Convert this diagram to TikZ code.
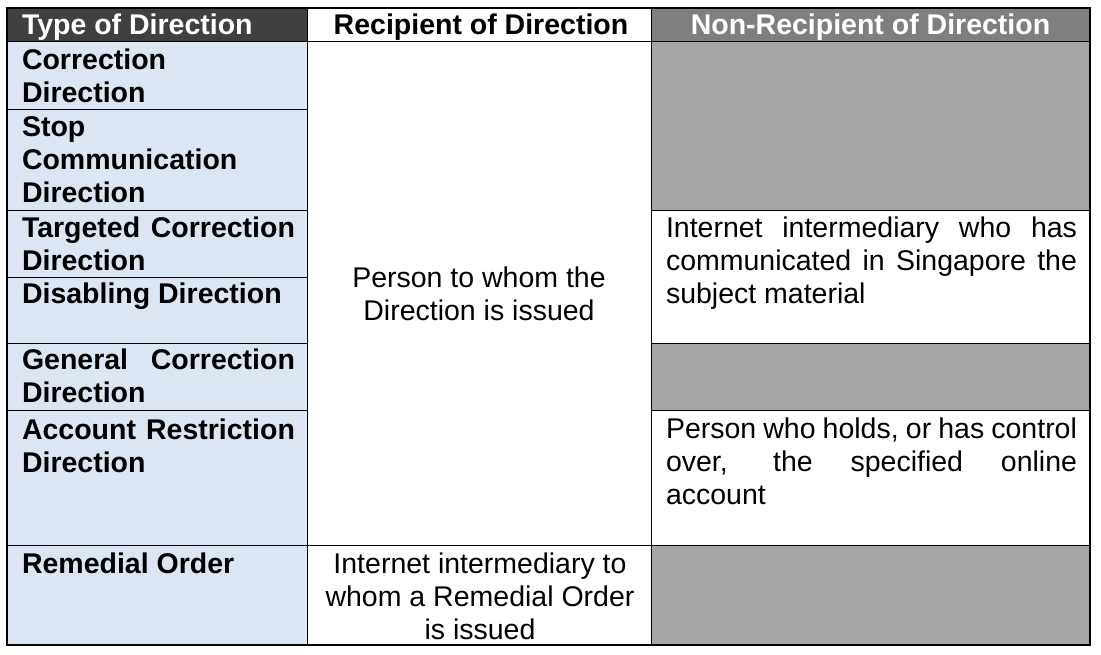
\documentclass[tikz,border=0pt]{standalone}
\usepackage{fontspec}
\setmainfont{Liberation Sans}
\definecolor{hdrdark}{HTML}{404040}
\definecolor{hdrgray}{HTML}{7F7F7F}
\definecolor{cellgray}{HTML}{A6A6A6}
\definecolor{cellblue}{HTML}{DCE6F2}
\newcommand{\jlL}[1]{\makebox[273pt][s]{#1}}
\newcommand{\jlR}[1]{\makebox[411pt][s]{#1}}
\tikzset{
  txt/.style={inner sep=0pt, outer sep=0pt, font=\fontsize{28.5}{33}\selectfont},
  typecell/.style={txt, font=\fontsize{28.5}{33}\selectfont\bfseries, anchor=north west, align=left},
  hdrtxt/.style={txt, font=\fontsize{28.5}{33}\selectfont\bfseries},
  midcell/.style={txt, anchor=north, align=center},
  rightcell/.style={txt, anchor=north west, align=left},
  grid/.style={line width=1pt, black},
}
\begin{document}
\begin{tikzpicture}[x=1pt,y=-1pt]
\useasboundingbox (0,0) rectangle (1101,654);
\fill[white] (0,0) rectangle (1101,654);
% fills
\fill[hdrdark] (7,8) rectangle (307,41);
\fill[hdrgray] (651,8) rectangle (1090,41);
\fill[cellblue] (7,41) rectangle (307,645);
\fill[cellgray] (651,41) rectangle (1090,210);
\fill[cellgray] (651,343) rectangle (1090,410);
\fill[cellgray] (651,545) rectangle (1090,645);
% grid lines
\draw[grid] (307,8) -- (307,645);
\draw[grid] (651,8) -- (651,645);
\draw[grid] (7,41) -- (1090,41);
\foreach \yy in {109,210,277,343,410} \draw[grid] (7,\yy) -- (307,\yy);
\foreach \yy in {210,343,410} \draw[grid] (651,\yy) -- (1090,\yy);
\draw[grid] (7,545) -- (1090,545);
\draw[line width=1.3pt] (7,8) rectangle (1090,645);
% header
\node[hdrtxt, text=white, anchor=base west] (h1) at (22,34) {Type of Direction};
\node[hdrtxt, anchor=base] (h2) at (481,34) {Recipient of Direction};
\node[hdrtxt, text=white, anchor=base] (h3) at (870.5,34) {Non-Recipient of Direction};
% type column
\node[typecell] (corr) at (22,45.9) {\strut Correction\\Direction};
\node[typecell] (stop) at (22,112.9) {\strut Stop\\Communication\\Direction};
\node[typecell] (targ) at (22,213.9) {\strut\jlL{Targeted Correction}\\Direction};
\node[typecell] (disab) at (22,279.9) {\strut Disabling Direction};
\node[typecell] (gen) at (22,345.9) {\strut\jlL{General Correction}\\Direction};
\node[typecell] (acct) at (22,415.9) {\strut\jlL{Account Restriction}\\Direction};
\node[typecell] (rem) at (22,549.9) {\strut Remedial Order};
% recipient column
\node[midcell] (person) at (479,263.9) {\strut Person to whom the\\Direction is issued};
\node[midcell] (inter) at (480,549.9) {\strut Internet intermediary to\\whom a Remedial Order\\is issued};
% non-recipient column
\node[rightcell] (intnr) at (666,213.9) {\strut\jlR{Internet intermediary who has}\\\jlR{communicated in Singapore the}\\subject material};
\node[rightcell] (holds) at (666,414.9) {\strut\jlR{Person who holds, or has control}\\\jlR{over, the specified online}\\account};
\end{tikzpicture}
\end{document}
